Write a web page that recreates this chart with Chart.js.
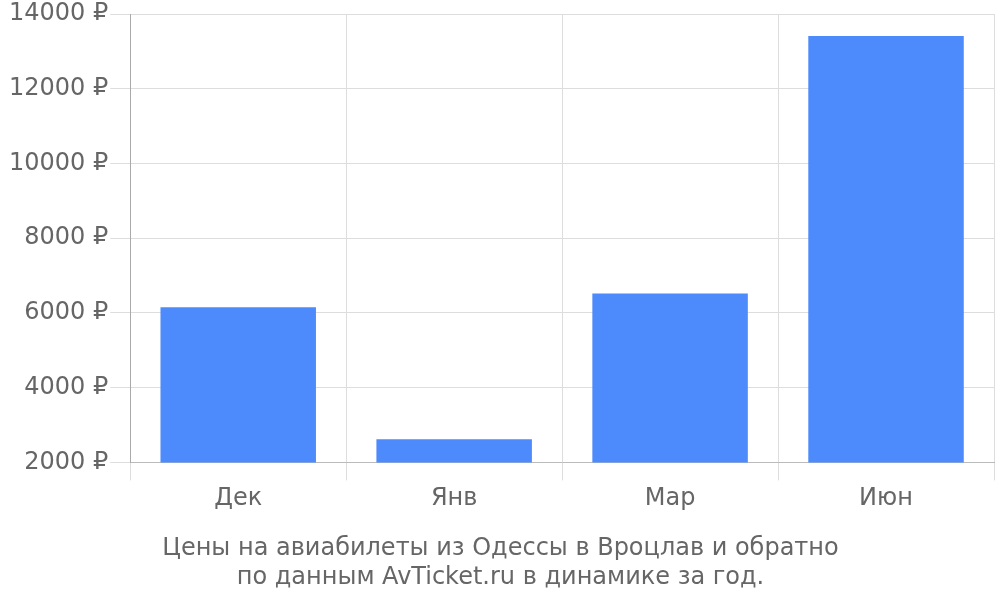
<!DOCTYPE html>
<html>
<head>
<meta charset="utf-8">
<script src="https://cdn.jsdelivr.net/npm/chart.js@4"></script>
<style>
  body { margin: 0; background: #fff; }
  #wrap { width: 1000px; height: 600px; }
</style>
</head>
<body>
<div id="wrap"><canvas id="chart"></canvas></div>
<script>
// --- data ---
const categories = ['Дек', 'Янв', 'Мар', 'Июн'];
const prices = [6150, 2620, 6520, 13410];
const titleLines = ['Цены на авиабилеты из Одессы в Вроцлав и обратно', 'по данным AvTicket.ru в динамике за год.'];

const font = "'DejaVu Sans', sans-serif";
Chart.defaults.font.family = font;
Chart.defaults.color = '#666';

new Chart(document.getElementById('chart').getContext('2d'), {
  type: 'bar',
  data: {
    labels: categories,
    datasets: [{
      data: prices,
      backgroundColor: '#4d8afb',
      borderWidth: 0
    }]
  },
  options: {
    responsive: true,
    maintainAspectRatio: false,
    animation: false,
    layout: { padding: { top: 0, right: 6, left: 7, bottom: 0 } },
    plugins: {
      legend: { display: false },
      tooltip: { enabled: false },
      title: {
        display: true,
        position: 'bottom',
        text: titleLines,
        color: '#666',
        font: { size: 24, weight: 'normal', lineHeight: 1.2 },
        padding: { top: 18, bottom: 8 }
      }
    },
    scales: {
      x: {
        grid: { color: '#ddd', tickLength: 18, offset: true },
        border: { color: '#bbb' },
        ticks: { font: { size: 24, lineHeight: 1 }, color: '#666', padding: 6 }
      },
      y: {
        min: 2000,
        max: 14000,
        grid: { color: '#ddd', tickLength: 20 },
        border: { color: '#aaa' },
        ticks: {
          stepSize: 2000,
          font: { size: 24, lineHeight: 1 },
          color: '#666',
          padding: 2,
          callback: v => v + ' ₽'
        }
      }
    }
  }
});
</script>
</body>
</html>
